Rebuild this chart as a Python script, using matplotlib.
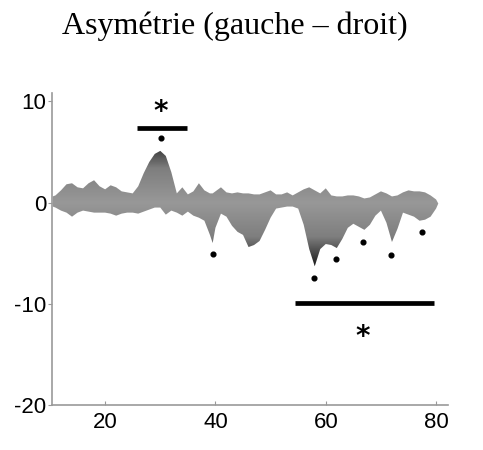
import numpy as np
import matplotlib
matplotlib.use('Agg')
import matplotlib.pyplot as plt
from matplotlib.colors import LinearSegmentedColormap

plt.rcParams['axes.unicode_minus'] = False

# position le long de l'axe x
x_pos = [10.5, 11, 12, 13, 14, 15, 16, 17, 18, 19, 20, 21, 22, 23, 24, 25, 26, 27, 28, 29, 30,
         31, 32, 33, 34, 35, 36, 37, 38, 39, 39.5, 40, 41, 42, 43, 44, 45, 46, 47, 48, 49, 50,
         51, 52, 53, 54, 55, 56, 57, 58, 59, 60, 61, 62, 63, 64, 65, 66, 67, 68, 69, 70,
         71, 72, 73, 74, 75, 76, 77, 78, 79, 80, 80.4]

# enveloppe supérieure
upper = [0.6, 0.7, 1.2, 1.8, 1.9, 1.5, 1.4, 1.9, 2.2, 1.6, 1.3, 1.7, 1.5, 1.1, 1.0, 0.9, 1.6, 2.9, 4.0, 4.8, 5.1,
         4.6, 3.0, 0.9, 1.5, 0.8, 1.1, 1.9, 1.2, 0.9, 0.9, 1.1, 1.5, 1.0, 0.9, 1.0, 0.9, 0.9, 0.8, 0.8, 1.0, 1.2,
         0.8, 0.8, 1.0, 0.7, 1.0, 1.3, 1.5, 1.2, 0.9, 1.4, 0.7, 0.6, 0.6, 0.7, 0.7, 0.6, 0.4, 0.5, 0.8, 1.1,
         0.9, 0.6, 0.7, 1.0, 1.2, 1.1, 1.1, 1.0, 0.7, 0.3, -0.1]

# enveloppe inférieure
lower = [-0.4, -0.5, -0.8, -1.0, -1.4, -1.0, -0.8, -0.9, -1.0, -1.0, -1.0, -1.1, -1.3, -1.1, -1.0, -1.0, -1.1, -0.9, -0.7, -0.5, -0.5,
         -1.2, -0.8, -1.0, -1.3, -0.9, -1.3, -1.5, -1.8, -3.2, -4.0, -2.5, -1.1, -1.4, -2.3, -2.9, -3.2, -4.4, -4.2, -3.8, -2.7, -1.5,
         -0.6, -0.5, -0.4, -0.4, -0.6, -2.2, -4.6, -6.3, -4.6, -4.1, -4.2, -4.5, -3.6, -2.5, -2.1, -2.4, -2.7, -2.2, -1.3, -0.8,
         -2.0, -3.9, -2.6, -1.0, -1.2, -1.4, -1.8, -1.7, -1.4, -0.6, -0.1]

# points significatifs
dot_x = [30.2, 39.5, 57.8, 61.8, 66.7, 71.8, 77.5]
dot_y = [6.4, -5.1, -7.5, -5.6, -3.9, -5.2, -2.9]

# barres de significativité
bar_x = [(25.8, 34.9), (54.4, 79.6)]
bar_y = [7.4, -9.9]
star_xy = [(30.1, 8.9), (66.7, -13.3)]

fig = plt.figure(figsize=(4.83, 4.50), dpi=100)
ax = fig.add_axes([0.108, 0.1, 0.82, 0.693])

xlim = (10.4, 82.2)
ylim = (-20, 10.8)

# remplissage en dégradé : plus sombre quand on s'éloigne de zéro
poly = ax.fill_between(x_pos, lower, upper, facecolor='none', edgecolor='none')
yy = np.linspace(ylim[0], ylim[1], 600)
grad = np.abs(yy)[:, None] * np.ones((1, 10))
cmap = LinearSegmentedColormap.from_list('gris', ['#989898', '#7e7e7e', '#080808'])
im = ax.imshow(grad, extent=[xlim[0], xlim[1], ylim[0], ylim[1]], origin='lower',
               aspect='auto', cmap=cmap, vmin=0, vmax=6.8, interpolation='bilinear')
path = poly.get_paths()[0]
im.set_clip_path(path, transform=ax.transData)

ax.plot(dot_x, dot_y, 'o', color='black', markersize=3.4)

for (x0, x1), y in zip(bar_x, bar_y):
    ax.plot([x0, x1], [y, y], color='black', linewidth=3.4, solid_capstyle='butt')
for sx, sy in star_xy:
    ax.text(sx, sy, '*', ha='center', va='center', fontsize=20, fontweight='bold',
            family='DejaVu Sans')

ax.set_xlim(*xlim)
ax.set_ylim(*ylim)
ax.set_xticks([20, 40, 60, 80])
ax.set_yticks([-20, -10, 0, 10])

for side in ['top', 'right']:
    ax.spines[side].set_visible(False)
for side in ['left', 'bottom']:
    ax.spines[side].set_color('#999999')
    ax.spines[side].set_linewidth(1.2)

ax.tick_params(axis='x', direction='in', length=3, color='#999999', labelsize=16, pad=5)
ax.tick_params(axis='y', direction='out', length=3, color='#999999', labelsize=16, pad=1)
for lab in ax.get_xticklabels() + ax.get_yticklabels():
    lab.set_family('Liberation Sans')

fig.text(235 / 483, 1 - 34 / 450, 'Asymétrie (gauche – droit)', ha='center', va='baseline',
         fontsize=23, family='Liberation Serif')

fig.savefig('out.png', dpi=100, facecolor='white')
